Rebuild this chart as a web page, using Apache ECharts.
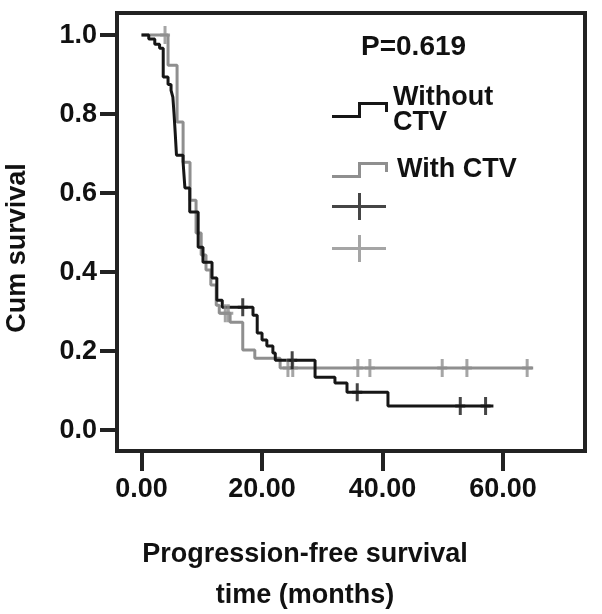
<!DOCTYPE html>
<html>
<head>
<meta charset="utf-8">
<script src="https://cdn.jsdelivr.net/npm/echarts@6/dist/echarts.min.js"></script>
<style>html,body{margin:0;padding:0;background:#fff}#c{width:602px;height:614px}</style>
</head>
<body>
<div id="c"></div>
<script>
// ---- data ----
const withoutTimes = [0, 1.2, 2.2, 3.0, 3.6, 4.4, 4.9, 5.2, 5.4, 5.6, 5.8, 6.9, 7.2, 8.0, 9.4, 10.2, 11.7, 12.5, 13.4, 18.5, 19.2, 20.0, 20.8, 21.8, 22.2, 28.8, 32.1, 34.1, 40.9, 58.4];
const withoutSurv  = [1, 0.99, 0.977, 0.967, 0.894, 0.875, 0.86, 0.843, 0.80, 0.75, 0.696, 0.678, 0.613, 0.552, 0.463, 0.425, 0.385, 0.329, 0.311, 0.291, 0.246, 0.228, 0.213, 0.195, 0.177, 0.134, 0.119, 0.096, 0.061, 0.061];
const withoutCensTimes = [16.8, 25.0, 35.8, 52.9, 57.1];
const withoutCensSurv  = [0.311, 0.177, 0.096, 0.061, 0.061];

const withTimes = [0, 4.4, 5.9, 6.9, 8.05, 9.05, 9.9, 10.7, 11.5, 12.4, 12.9, 14.7, 16.8, 18.8, 23.0, 65.0];
const withSurv  = [1, 0.924, 0.780, 0.678, 0.582, 0.499, 0.443, 0.405, 0.367, 0.316, 0.296, 0.273, 0.203, 0.182, 0.157, 0.157];
const withCensTimes = [3.9, 13.9, 14.4, 24.3, 25.1, 35.9, 37.9, 49.9, 54.0, 64.0];
const withCensSurv  = [1, 0.296, 0.296, 0.157, 0.157, 0.157, 0.157, 0.157, 0.157, 0.157];

const xTicks = [0, 20, 40, 60];
const yTicks = [0, 0.2, 0.4, 0.6, 0.8, 1.0];
const seriesNames = ['Without CTV', 'With CTV'];
const pValueText = 'P=0.619';
const xTitle = ['Progression-free survival', 'time (months)'];
const yTitle = 'Cum survival';

const BLACK = '#161616', GRAY = '#8f8f8f';
const FONT = '"Liberation Sans", Arial, sans-serif';
const zip = (a, b) => a.map((v, i) => [v, b[i]]);

const stepIcon = 'path://M0,13 H26 V0 H56 V10 H53 V3 H29 V16 H0 Z';
const crossIcon = 'path://M0,12 H54 V15 H0 Z M26,0 H29 V27 H26 Z';
const censSymbol = 'path://M0,7.5 H10 V10.5 H0 Z M3.5,0 H6.5 V18 H3.5 Z';

const chart = echarts.init(document.getElementById('c'), null, {renderer: 'canvas'});
const labelStyle = {color: '#111', fontFamily: FONT, fontWeight: 'bold', fontSize: 27};

chart.setOption({
  animation: false,
  backgroundColor: '#fff',
  grid: {left: 117, right: 17, top: 13, bottom: 163, show: true, borderColor: '#222', borderWidth: 4, containLabel: false},
  xAxis: {
    type: 'value', min: -4.07, max: 73.6,
    splitLine: {show: false},
    axisLine: {show: true, onZero: false, lineStyle: {color: '#222', width: 4}},
    axisTick: {show: true, length: 20, lineStyle: {color: '#222', width: 4}, customValues: xTicks},
    axisLabel: Object.assign({margin: 25, customValues: xTicks, formatter: v => v.toFixed(2)}, labelStyle)
  },
  yAxis: {
    type: 'value', min: -0.053, max: 1.056,
    splitLine: {show: false},
    axisLine: {show: true, onZero: false, lineStyle: {color: '#222', width: 4}},
    axisTick: {show: true, length: 17, lineStyle: {color: '#222', width: 4}, customValues: yTicks},
    axisLabel: Object.assign({margin: 20, customValues: yTicks, formatter: v => v.toFixed(1)}, labelStyle)
  },
  legend: [
    {left: 332, top: 84, padding: 0, itemWidth: 56, itemHeight: 16, selectedMode: false,
     data: [{name: seriesNames[0], icon: stepIcon}],
     formatter: () => 'Without\nCTV',
     textStyle: Object.assign({lineHeight: 25}, labelStyle)},
    {left: 332, top: 156, padding: 0, itemWidth: 56, itemHeight: 16, selectedMode: false,
     data: [{name: seriesNames[1], icon: stepIcon}],
     textStyle: Object.assign({lineHeight: 28, padding: [0, 0, 0, 4]}, labelStyle)},
    {left: 332, top: 193, padding: 0, itemWidth: 54, itemHeight: 27, selectedMode: false,
     data: [{name: 'cens0', icon: crossIcon}], formatter: () => '',
     textStyle: {fontSize: 1}},
    {left: 332, top: 235, padding: 0, itemWidth: 54, itemHeight: 27, selectedMode: false,
     data: [{name: 'cens1', icon: crossIcon}], formatter: () => '',
     textStyle: {fontSize: 1}}
  ],
  series: [
    {name: seriesNames[0], type: 'line', step: 'end', data: zip(withoutTimes, withoutSurv),
     showSymbol: false, color: BLACK, lineStyle: {color: BLACK, width: 3}, z: 3},
    {name: seriesNames[1], type: 'line', step: 'end', data: zip(withTimes, withSurv),
     showSymbol: false, color: GRAY, lineStyle: {color: GRAY, width: 3}, z: 2},
    {name: 'cens0', type: 'scatter', data: zip(withoutCensTimes, withoutCensSurv),
     symbol: censSymbol, symbolSize: [10, 18], color: BLACK, itemStyle: {color: BLACK}, z: 4},
    {name: 'cens1', type: 'scatter', data: zip(withCensTimes, withCensSurv),
     symbol: censSymbol, symbolSize: [10, 18], color: GRAY, itemStyle: {color: GRAY}, z: 3}
  ],
  graphic: [
    {type: 'text', left: 361, top: 33, style: {text: pValueText, fill: '#111', font: 'bold 28px ' + FONT}},
    {type: 'text', x: 18, y: 248, rotation: Math.PI / 2,
     style: {text: yTitle, fill: '#111', font: 'bold 27px ' + FONT, align: 'center', verticalAlign: 'middle'}},
    {type: 'text', x: 305, y: 555,
     style: {text: xTitle[0], fill: '#111', font: 'bold 27px ' + FONT, align: 'center', verticalAlign: 'middle'}},
    {type: 'text', x: 305, y: 596,
     style: {text: xTitle[1], fill: '#111', font: 'bold 27px ' + FONT, align: 'center', verticalAlign: 'middle'}}
  ]
});
</script>
</body>
</html>
